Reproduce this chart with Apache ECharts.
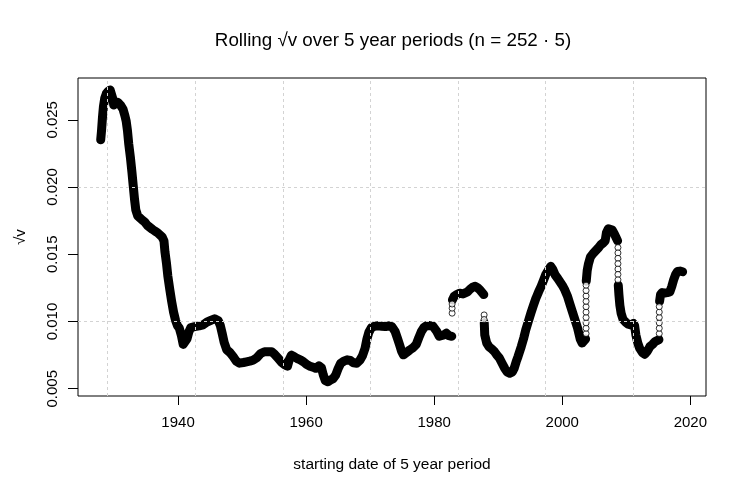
<!DOCTYPE html>
<html><head><meta charset="utf-8">
<script src="https://cdn.jsdelivr.net/npm/echarts@6/dist/echarts.min.js"></script>
<style>html,body{margin:0;padding:0;background:#fff}#c{width:746px;height:494px}</style>
</head><body><div id="c"></div>
<script>
// starting year of each 5-year window (null value = gap in the band)
const years = [
1927.92,1928.05,1928.2,1928.35,1928.55,1928.8,1929.06,1929.4,1929.7,1929.85,1929.95,1930.2,1930.6,1931.0,1931.4,1931.7,1931.9,
1932.1,1932.3,1932.56,1932.8,1933.0,1933.2,1933.4,1933.7,1934.0,1934.4,1934.8,1935.2,1935.6,1936.0,1936.4,1936.8,1937.1,1937.5,
1937.8,1937.95,1938.2,1938.4,1938.7,1939.0,1939.3,1939.6,1939.9,1940.2,1940.5,1940.8,1941.1,1941.4,1941.7,1942.0,1942.6,1943.3,
1943.9,1944.5,1945.2,1945.7,1946.0,1946.3,1946.6,1946.9,1947.2,1947.6,1948.1,1948.6,1949.1,1949.6,1950.2,1950.7,1951.2,1951.7,
1952.3,1952.9,1953.5,1954.1,1954.6,1955.1,1955.6,1956.2,1956.7,1957.1,1957.4,1957.7,1958.1,1958.6,1959.1,1959.6,1960.1,1960.6,
1961.1,1961.5,1962.0,1962.4,1962.7,1963.0,1963.4,1963.8,1964.2,1964.6,1965.0,1965.4,1965.9,1966.4,1966.9,1967.4,1967.9,1968.4,
1968.8,1969.2,1969.5,1969.8,1970.2,1970.7,1971.2,1971.8,1972.4,1972.9,1973.4,1973.9,1974.3,1974.6,1974.9,1975.2,1975.7,1976.2,
1976.7,1977.2,1977.6,1978.0,1978.4,1978.8,1979.3,1979.8,1980.4,1980.8,1981.1,1981.5,1981.9,1982.3,1982.75,
1982.8,
1982.85,1983.1,1983.5,1984.0,1984.5,1984.8,1985.2,1985.6,1986.0,1986.4,1986.8,1987.2,1987.5,1987.75,
1987.78,
1987.82,1987.9,1988.2,1988.6,1989.0,1989.4,1989.8,1990.2,1990.6,1991.0,1991.4,1991.8,1992.2,1992.5,1992.8,1993.1,1993.6,1994.0,
1994.3,1994.7,1995.1,1995.5,1995.9,1996.3,1996.7,1997.1,1997.4,1997.8,1998.2,1998.5,1998.9,1999.3,1999.6,2000.0,2000.4,2000.8,
2001.2,2001.6,2002.0,2002.4,2002.8,2003.1,2003.4,2003.65,
2003.7,
2003.75,2003.9,2004.1,2004.4,2004.8,2005.2,2005.6,2006.0,2006.4,2006.7,2006.9,2007.2,2007.5,2007.8,2008.1,2008.4,2008.65,
2008.7,
2008.75,2008.85,2009.0,2009.2,2009.5,2009.9,2010.3,2010.7,2011.1,2011.3,2011.5,2011.8,2012.1,2012.5,2012.9,2013.3,2013.7,2014.1,
2014.5,2014.9,2015.1,
2015.15,
2015.2,2015.35,2015.6,2016.0,2016.4,2016.8,2017.1,2017.4,2017.7,2018.0,2018.4,2018.8
];
const sqrtV = [
0.02351,0.02420,0.02520,0.02600,0.02660,0.02695,0.02711,0.02722,0.02724,0.02650,0.02610,0.02620,0.02630,0.02610,0.02580,0.02530,0.02490,
0.02420,0.02320,0.02220,0.02110,0.02010,0.01910,0.01830,0.01785,0.01775,0.01755,0.01740,0.01715,0.01700,0.01685,0.01672,0.01660,0.01650,0.01630,
0.01600,0.01520,0.01430,0.01340,0.01240,0.01150,0.01070,0.01010,0.00970,0.00950,0.00900,0.00830,0.00840,0.00870,0.00925,0.00955,0.00962,0.00968,
0.00975,0.00995,0.01010,0.01020,0.01022,0.01005,0.00970,0.00910,0.00845,0.00790,0.00770,0.00740,0.00705,0.00690,0.00695,0.00700,0.00705,0.00712,
0.00730,0.00762,0.00775,0.00775,0.00776,0.00755,0.00728,0.00695,0.00676,0.00668,0.00720,0.00750,0.00740,0.00725,0.00715,0.00700,0.00680,0.00668,
0.00660,0.00652,0.00670,0.00655,0.00600,0.00560,0.00552,0.00565,0.00575,0.00600,0.00650,0.00690,0.00705,0.00715,0.00710,0.00693,0.00690,0.00712,
0.00745,0.00800,0.00870,0.00920,0.00955,0.00965,0.00968,0.00965,0.00962,0.00968,0.00962,0.00926,0.00870,0.00826,0.00780,0.00752,0.00770,0.00789,
0.00805,0.00830,0.00880,0.00926,0.00955,0.00968,0.00970,0.00965,0.00926,0.00890,0.00876,0.00900,0.00913,0.00895,0.00890,
null,
0.01160,0.01186,0.01200,0.01210,0.01205,0.01199,0.01220,0.01240,0.01255,0.01262,0.01250,0.01232,0.01220,0.01200,
null,
0.00990,0.00900,0.00840,0.00810,0.00795,0.00777,0.00750,0.00727,0.00690,0.00653,0.00625,0.00615,0.00625,0.00653,0.00700,0.00740,0.00814,0.00880,
0.00938,0.01000,0.01062,0.01120,0.01174,0.01220,0.01261,0.01310,0.01347,0.01380,0.01410,0.01390,0.01346,0.01320,0.01310,0.01270,0.01235,0.01190,
0.01130,0.01070,0.01010,0.00950,0.00870,0.00840,0.00845,0.00870,
null,
0.01300,0.01380,0.01430,0.01480,0.01505,0.01525,0.01545,0.01570,0.01585,0.01600,0.01660,0.01690,0.01694,0.01680,0.01655,0.01625,0.01600,
null,
0.01270,0.01200,0.01120,0.01060,0.01015,0.00995,0.00980,0.00975,0.00985,0.00970,0.00900,0.00840,0.00800,0.00770,0.00757,0.00780,0.00814,0.00830,
0.00851,0.00860,0.00865,
null,
0.01150,0.01200,0.01215,0.01212,0.01215,0.01220,0.01260,0.01310,0.01350,0.01372,0.01375,0.01370
];
// isolated daily points at the jumps (crash days entering / leaving the window)
const jumpYears = [1982.8,1982.8,1982.8, 1987.8,1987.8,
  2003.72,2003.72,2003.72,2003.72,2003.72,2003.72,2003.72,2003.72,2003.72,2003.72,
  2008.7,2008.7,2008.7,2008.7,2008.7,2008.7,2008.7,
  2015.15,2015.15,2015.15,2015.15,2015.15,2015.15];
const jumpVals = [0.01062,0.01099,0.01130, 0.01049,0.01015,
  0.0091,0.0095,0.0099,0.0103,0.0107,0.0111,0.0115,0.0119,0.0123,0.0127,
  0.0155,0.0151,0.0147,0.0143,0.0139,0.0135,0.0131,
  0.0091,0.0095,0.0099,0.0103,0.0107,0.0111];
const xTicks = [1940,1960,1980,2000,2020];
const yTicks = [0.005,0.010,0.015,0.020,0.025];
const xGridLines = [1929.0,1942.68,1956.37,1970.05,1983.73,1997.41,2011.1];

const FONT = '"Liberation Sans", Arial, sans-serif';
const chart = echarts.init(document.getElementById('c'), null, {renderer:'canvas'});
const lineData = years.map((y,i)=> sqrtV[i]===null ? [y,'-'] : [y, sqrtV[i]]);
const jumpData = jumpYears.map((y,i)=>[y, jumpVals[i]]);
const gridStyle = {color:'#d3d3d3', width:1, type:[3,3]};
chart.setOption({
  animation:false,
  backgroundColor:'#fff',
  grid:{left:78, top:78, width:628, height:318, show:true, borderColor:'#000', borderWidth:1, backgroundColor:'transparent'},
  xAxis:{type:'value', min:1924.375, max:2022.45,
    axisLine:{show:false}, splitLine:{show:false},
    axisTick:{show:true, length:9, lineStyle:{color:'#000'}, customValues:xTicks},
    axisLabel:{show:true, margin:19, color:'#000', fontSize:15, fontFamily:FONT, customValues:xTicks, formatter:v=>String(v)}
  },
  yAxis:{type:'value', min:0.00446, max:0.02811,
    axisLine:{show:false}, splitLine:{show:false},
    axisTick:{show:true, length:10, lineStyle:{color:'#000'}, customValues:yTicks},
    axisLabel:{show:true, rotate:90, margin:18, color:'#000', fontSize:15, fontFamily:FONT, customValues:yTicks, formatter:v=>v.toFixed(3)}
  },
  graphic:[
    {type:'text', x:393, y:41, style:{text:'Rolling \u221Av over 5 year periods (n = 252 \u00B7 5)', font:'18.8px '+FONT, fill:'#000', textAlign:'center', textVerticalAlign:'middle'}},
    {type:'text', x:392, y:465, style:{text:'starting date of 5 year period', font:'15.5px '+FONT, fill:'#000', textAlign:'center', textVerticalAlign:'middle'}},
    {type:'text', x:21, y:237, rotation:Math.PI/2, style:{text:'\u221Av', font:'15px '+FONT, fill:'#000', textAlign:'center', textVerticalAlign:'middle'}}
  ],
  series:[
    {type:'line', data:[], z:1, silent:true,
      markLine:{silent:true, symbol:'none', label:{show:false}, lineStyle:gridStyle, animation:false,
        data: xGridLines.map(v=>({xAxis:v})).concat(yTicks.map(v=>({yAxis:v})))}
    },
    {type:'line', data:lineData, z:3, showSymbol:false, connectNulls:false, silent:true,
      lineStyle:{color:'#000', width:9, cap:'round', join:'round'}},
    {type:'scatter', data:jumpData, z:4, symbol:'circle', symbolSize:6, silent:true,
      itemStyle:{color:'#fff', borderColor:'#000', borderWidth:1}}
  ]
});
</script></body></html>
